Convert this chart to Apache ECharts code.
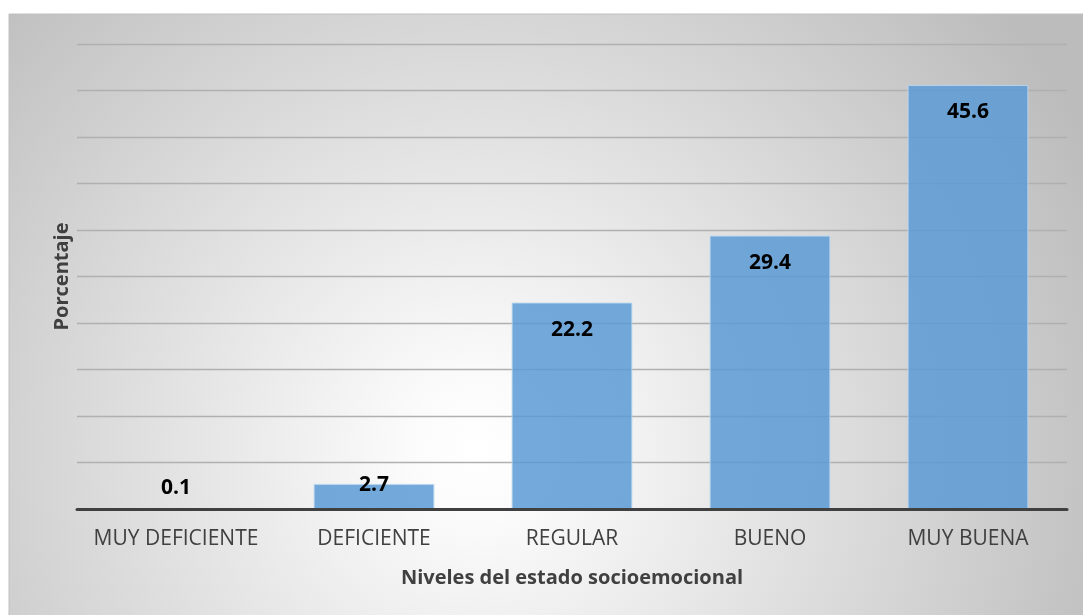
<!DOCTYPE html>
<html>
<head>
<meta charset="utf-8">
<script src="https://cdn.jsdelivr.net/npm/echarts@6/dist/echarts.min.js"></script>
<style>
html,body{margin:0;padding:0;background:#ffffff;}
#chart{width:1083px;height:615px;}
</style>
</head>
<body>
<div id="chart"></div>
<script>
var categories = ['MUY DEFICIENTE', 'DEFICIENTE', 'REGULAR', 'BUENO', 'MUY BUENA'];
var values = [0.1, 2.7, 22.2, 29.4, 45.6];
var xAxisTitle = 'Niveles del estado socioemocional';
var yAxisTitle = 'Porcentaje';

var FONT = '"Open Sans", "Liberation Sans", sans-serif';

function labelFor(v) {
  var base = {show: true, color: '#000000', fontFamily: FONT, fontWeight: 'bold', fontSize: 21,
              formatter: function (p) { return p.value.toFixed(1); }};
  if (v < 1) { base.position = 'top'; base.distance = 10; }
  else if (v < 5) { base.position = 'top'; base.distance = -12; }
  else { base.position = 'insideTop'; base.distance = 17; }
  return base;
}

var seriesData = values.map(function (v) { return {value: v, label: labelFor(v)}; });

var chart = echarts.init(document.getElementById('chart'), null, {renderer: 'canvas'});
chart.setOption({
  animation: false,
  backgroundColor: '#ffffff',
  graphic: [{
    type: 'rect', z: -10, silent: true,
    shape: {x: 9, y: 14, width: 1090, height: 620},
    style: {
      fill: new echarts.graphic.RadialGradient(0.43, 0.7, 1.1, [
        {offset: 0, color: '#ffffff'},
        {offset: 0.1, color: '#fbfbfb'},
        {offset: 1, color: '#bcbcbc'}
      ]),
      stroke: '#c0c0c0', lineWidth: 1
    }
  }],
  grid: {left: 77, right: 16, top: 44, bottom: 106, containLabel: false},
  xAxis: {
    type: 'category',
    z: 5,
    data: categories,
    name: xAxisTitle,
    nameLocation: 'middle',
    nameGap: 59,
    nameTextStyle: {fontFamily: FONT, fontWeight: 'bold', fontSize: 20, color: '#404040'},
    axisLine: {show: true, lineStyle: {color: '#404040', width: 3}},
    axisTick: {show: false},
    axisLabel: {fontFamily: FONT, fontSize: 21, color: '#404040', margin: 20, interval: 0}
  },
  yAxis: {
    type: 'value',
    min: 0, max: 50, interval: 5,
    name: yAxisTitle,
    nameLocation: 'middle',
    nameGap: 5,
    nameTextStyle: {fontFamily: FONT, fontWeight: 'bold', fontSize: 20, color: '#404040'},
    axisLine: {show: false},
    axisTick: {show: false},
    axisLabel: {show: false},
    splitLine: {show: true, lineStyle: {color: '#b0b0b0', width: 1.3}}
  },
  series: [{
    type: 'bar',
    data: seriesData,
    barCategoryGap: '39%',
    itemStyle: {color: 'rgba(91,155,213,0.85)', borderColor: 'rgba(189,215,238,0.9)', borderWidth: 1}
  }]
});
</script>
</body>
</html>
